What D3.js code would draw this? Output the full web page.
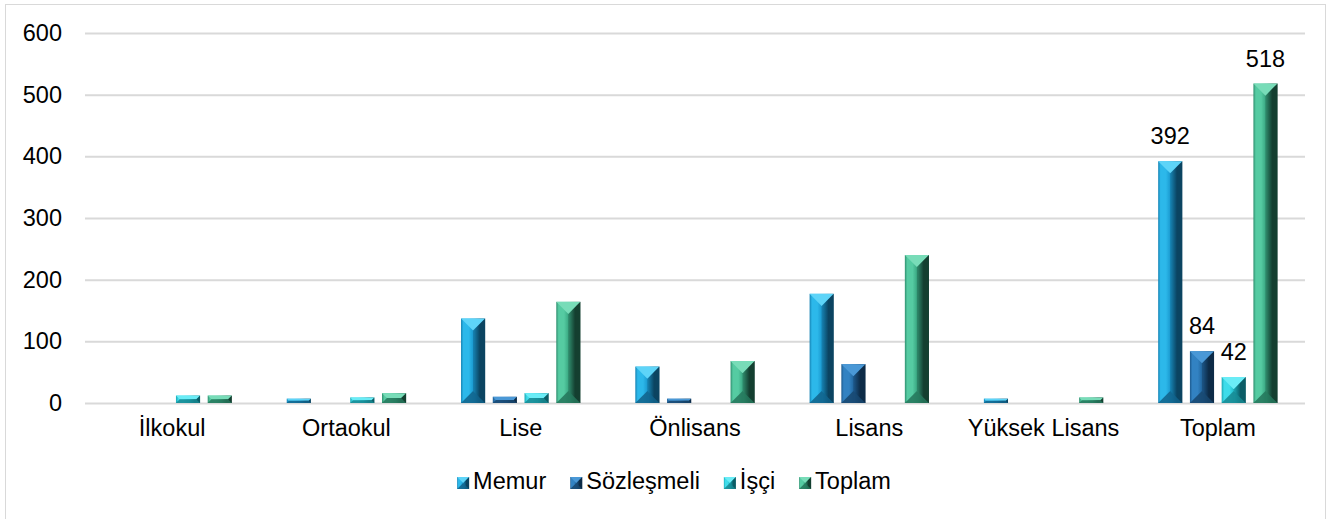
<!DOCTYPE html>
<html>
<head>
<meta charset="utf-8">
<script src="https://cdn.jsdelivr.net/npm/d3@7"></script>
<style>
  html, body { margin: 0; padding: 0; background: #fff; }
  svg { display: block; font-family: "Liberation Sans", Arial, sans-serif; }
</style>
</head>
<body>
<svg id="chart" width="1331" height="519"></svg>
<script>
const categories = ["İlkokul", "Ortaokul", "Lise", "Önlisans", "Lisans", "Yüksek Lisans", "Toplam"];
const seriesNames = ["Memur", "Sözleşmeli", "İşçi", "Toplam"];
const memur      = [0, 7, 137, 59, 177, 7, 392];
const sozlesmeli = [0, 0, 10, 7, 63, 0, 84];
const isci       = [12, 9, 16, 0, 0, 0, 42];
const toplam     = [12, 16, 164, 68, 240, 9, 518];
const yTicks = [0, 100, 200, 300, 400, 500, 600];
const labelledCategory = "Toplam";

(function () {
const seriesValues = [memur, sozlesmeli, isci, toplam];
const palette = {
  "Memur":      {edge: "#1683b4", bright: "#2cb8ea", base: "#1b9ad0", dark: "#0b4462", top: "#5ed4f8", bottom: "#10618a"},
  "Sözleşmeli": {edge: "#1d5a8e", bright: "#3282c2", base: "#2267a0", dark: "#0d2c48", top: "#4a98d6", bottom: "#17466f"},
  "İşçi":       {edge: "#19a6b2", bright: "#3fdcea", base: "#22bfcd", dark: "#0c5d66", top: "#6aecf6", bottom: "#168790"},
  "Toplam":     {edge: "#2f8f6f", bright: "#55cba2", base: "#3aa883", dark: "#143f31", top: "#78dcb8", bottom: "#25755a"}
};

const svg = d3.select("#chart");
const fontSize = 23.5;

svg.append("rect")
  .attr("x", 5.5).attr("y", 4.5).attr("width", 1320).attr("height", 520)
  .attr("fill", "#fff").attr("stroke", "#d9d9d9").attr("stroke-width", 1);

const pLeft = 85, pRight = 1305, pTop = 33, pBottom = 403;
const x0 = d3.scaleBand().domain(categories).range([pLeft, pRight]);
const x1 = d3.scaleBand().domain(seriesNames).range([-63.5, 63.5]).paddingInner(0.24).paddingOuter(0.12);
const y = d3.scaleLinear().domain([0, 600]).range([pBottom, pTop]);

const defs = svg.append("defs");
seriesNames.forEach((s, i) => {
  const c = palette[s];
  const g = defs.append("linearGradient").attr("id", "grad" + i)
    .attr("x1", 0).attr("x2", 1).attr("y1", 0).attr("y2", 0);
  [[0, c.edge], [0.1, c.bright], [0.32, c.bright], [0.5, c.base], [0.54, c.base], [0.78, c.dark], [1, c.dark]]
    .forEach(([o, col]) => g.append("stop").attr("offset", o).attr("stop-color", col));
});

const yAxis = svg.append("g")
  .attr("transform", `translate(${pLeft},0)`)
  .call(d3.axisLeft(y).tickValues(yTicks).tickSizeInner(-(pRight - pLeft)).tickSizeOuter(0).tickPadding(23));
yAxis.select(".domain").remove();
yAxis.selectAll(".tick line").attr("stroke", "#d9d9d9").attr("stroke-width", 2);
yAxis.selectAll(".tick text").attr("font-size", fontSize).attr("fill", "#000")
  .attr("font-family", "Liberation Sans, Arial, sans-serif");

const xAxis = svg.append("g")
  .attr("transform", `translate(0,${pBottom})`)
  .call(d3.axisBottom(x0).tickSize(0).tickPadding(16));
xAxis.select(".domain").remove();
xAxis.selectAll(".tick text").attr("font-size", fontSize).attr("fill", "#000")
  .attr("font-family", "Liberation Sans, Arial, sans-serif");

function pts(arr) { return arr.map(p => p.join(",")).join(" "); }

function drawBevelBar(g, x, yt, w, h, si) {
  const c = palette[seriesNames[si]];
  const d = Math.min(w / 2, h / 2);
  g.append("rect").attr("x", x).attr("y", yt).attr("width", w).attr("height", h)
    .attr("fill", `url(#grad${si})`);
  g.append("polygon")
    .attr("points", pts([[x, yt], [x + w, yt], [x + w - d, yt + d], [x + d, yt + d]]))
    .attr("fill", c.top);
  g.append("polygon")
    .attr("points", pts([[x, yt + h], [x + w, yt + h], [x + w - d, yt + h - d], [x + d, yt + h - d]]))
    .attr("fill", c.bottom).attr("opacity", 0.85);
  g.append("polygon")
    .attr("points", pts([[x + w, yt], [x + w - d, yt + d], [x + w - d, yt + h - d], [x + w, yt + h]]))
    .attr("fill", c.dark).attr("opacity", 0.35);
}

const barsG = svg.append("g");
categories.forEach((cat, ci) => {
  const cx = x0(cat) + x0.bandwidth() / 2;
  seriesNames.forEach((s, si) => {
    const v = seriesValues[si][ci];
    if (!v) return;
    const bx = cx + x1(s);
    const bw = x1.bandwidth();
    const yt = y(v);
    drawBevelBar(barsG, bx, yt, bw, y(0) - yt, si);
    if (cat === labelledCategory) {
      barsG.append("text")
        .attr("x", bx + bw / 2).attr("y", yt - 17)
        .attr("text-anchor", "middle")
        .attr("font-size", fontSize).attr("fill", "#000")
        .text(v);
    }
  });
});

// legend, centred in the frame
const legend = svg.append("g");
const m = 12, mGap = 4, itemGap = 24, ly = 489, legendCenter = 674;
const items = seriesNames.map((s, si) => {
  const t = legend.append("text")
    .attr("y", ly).attr("font-size", fontSize).attr("fill", "#000").text(s);
  return {si, t, w: t.node().getComputedTextLength()};
});
const total = d3.sum(items, d => m + mGap + d.w) + itemGap * (items.length - 1);
let lx = legendCenter - total / 2;
items.forEach(d => {
  drawBevelBar(legend, lx, ly - m, m, m, d.si);
  d.t.attr("x", lx + m + mGap);
  lx += m + mGap + d.w + itemGap;
});
})();
</script>
</body>
</html>
